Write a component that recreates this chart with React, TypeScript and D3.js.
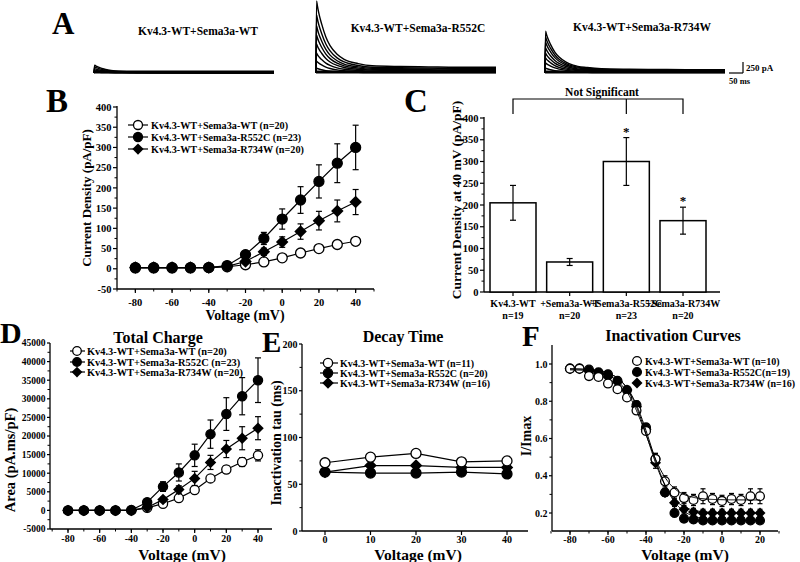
import React from 'react';
import * as d3 from 'd3';

const FONT = '"Liberation Serif", "Times New Roman", serif';

// ---------- Panel A (example traces) ----------
const traceTimes = [0, 2, 5, 10, 20, 35, 50, 75, 100, 150, 200, 300, 400, 500, 640];
const traceShape = [0, 1, 0.93, 0.83, 0.68, 0.5, 0.38, 0.26, 0.19, 0.13, 0.1, 0.09, 0.085, 0.08, 0.08];
const aTitles = ['Kv4.3-WT+Sema3a-WT', 'Kv4.3-WT+Sema3a-R552C', 'Kv4.3-WT+Sema3a-R734W'];
const aWTPeaks = [180, 140, 100, 70, 40, 20];
const aR552CPeaks = [1640, 1320, 1070, 860, 660, 450, 270, 110];
const aR734WPeaks = [950, 820, 700, 570, 450, 340, 230, 110];

// ---------- Panel B (current density) ----------
const voltsB = [-80, -70, -60, -50, -40, -30, -20, -10, 0, 10, 20, 30, 40];
const bWT = [2, 2, 2, 2, 3, 5, 10, 17, 27, 39, 50, 60, 68];
const bWTErr = [1, 1, 1, 1, 1, 2, 3, 4, 5, 6, 6, 7, 8];
const bR552C = [3, 3, 3, 3, 3, 8, 35, 75, 123, 170, 216, 261, 300];
const bR552CErr = [1, 1, 1, 1, 1, 3, 8, 15, 25, 33, 41, 48, 55];
const bR734W = [3, 3, 3, 3, 3, 6, 18, 42, 66, 92, 119, 143, 165];
const bR734WErr = [1, 1, 1, 1, 1, 2, 5, 9, 13, 19, 23, 27, 31];
const bLegend = ['Kv4.3-WT+Sema3a-WT (n=20)', 'Kv4.3-WT+Sema3a-R552C (n=23)', 'Kv4.3-WT+Sema3a-R734W (n=20)'];

// ---------- Panel C (bars at 40 mV) ----------
const cCats = ['Kv4.3-WT', '+Sema3a-WT', '+Sema3a-R552C', '+Sema3a-R734W'];
const cN = ['n=19', 'n=20', 'n=23', 'n=20'];
const cVals = [205, 69, 300, 164];
const cErr = [40, 8, 55, 31];
const cStars = ['', '', '*', '*'];

// ---------- Panel D (total charge) ----------
const voltsD = [-80, -70, -60, -50, -40, -30, -20, -10, 0, 10, 20, 30, 40];
const dWT = [0, 0, 0, 0, 0, 700, 1800, 3300, 5500, 8600, 11000, 13000, 14800];
const dWTErr = [0, 0, 0, 0, 0, 200, 400, 600, 500, 600, 1000, 1200, 1500];
const dR552C = [0, 0, 0, 0, 100, 2200, 6400, 10200, 14800, 20500, 25900, 30700, 35000];
const dR552CErr = [0, 0, 0, 0, 100, 400, 1300, 2300, 3000, 3800, 4400, 5000, 6000];
const dR734W = [0, 0, 0, 0, 0, 800, 2900, 5600, 8600, 12900, 16500, 19400, 22100];
const dR734WErr = [0, 0, 0, 0, 0, 200, 600, 1000, 1900, 1900, 2300, 3100, 3100];
const dLegend = ['Kv4.3-WT+Sema3a-WT (n=20)', 'Kv4.3-WT+Sema3a-R552C (n=23)', 'Kv4.3-WT+Sema3a-R734W (n=20)'];

// ---------- Panel E (decay time) ----------
const voltsE = [0, 10, 20, 30, 40];
const eWT = [73, 79, 83, 74, 75];
const eWTErr = [2, 2, 2, 2, 2];
const eR552C = [63, 62, 62, 63, 61];
const eR552CErr = [2, 2, 2, 2, 2];
const eR734W = [63, 70, 70, 68, 68];
const eR734WErr = [2, 2, 2, 2, 2];
const eLegend = ['Kv4.3-WT+Sema3a-WT (n=11)', 'Kv4.3-WT+Sema3a-R552C (n=20)', 'Kv4.3-WT+Sema3a-R734W (n=16)'];

// ---------- Panel F (inactivation) ----------
const voltsF = [-80, -75, -70, -65, -60, -55, -50, -45, -40, -35, -30, -25, -20, -15, -10, -5, 0, 5, 10, 15, 20];
const fWT = [0.975, 0.975, 0.935, 0.93, 0.895, 0.865, 0.82, 0.75, 0.64, 0.49, 0.37, 0.31, 0.28, 0.27, 0.29, 0.275, 0.265, 0.275, 0.27, 0.29, 0.29];
const fWTErr = [0.01, 0.01, 0.01, 0.01, 0.01, 0.01, 0.015, 0.02, 0.02, 0.03, 0.03, 0.03, 0.03, 0.03, 0.04, 0.03, 0.03, 0.03, 0.03, 0.04, 0.04];
const fR552C = [0.975, 0.975, 0.97, 0.955, 0.945, 0.91, 0.86, 0.78, 0.66, 0.49, 0.31, 0.2, 0.17, 0.165, 0.16, 0.16, 0.16, 0.16, 0.16, 0.16, 0.16];
const fR552CErr = [0.01, 0.01, 0.01, 0.01, 0.01, 0.01, 0.015, 0.02, 0.02, 0.03, 0.02, 0.02, 0.015, 0.015, 0.015, 0.015, 0.015, 0.015, 0.015, 0.015, 0.015];
const fR734W = [0.975, 0.975, 0.96, 0.95, 0.93, 0.905, 0.86, 0.77, 0.65, 0.47, 0.31, 0.255, 0.22, 0.205, 0.2, 0.2, 0.2, 0.2, 0.2, 0.2, 0.2];
const fR734WErr = [0.01, 0.01, 0.01, 0.01, 0.01, 0.01, 0.015, 0.02, 0.02, 0.03, 0.02, 0.02, 0.02, 0.02, 0.02, 0.02, 0.02, 0.02, 0.02, 0.02, 0.02];
// Boltzmann fit parameters [top, bottom, V1/2, k]
const fFitWT = [0.97, 0.27, -40, 6.4];
const fFitR552C = [0.975, 0.16, -37.6, 6.4];
const fFitR734W = [0.975, 0.2, -38.8, 6.1];
const fLegend = ['Kv4.3-WT+Sema3a-WT (n=10)', 'Kv4.3-WT+Sema3a-R552C(n=19)', 'Kv4.3-WT+Sema3a-R734W (n=16)'];

type MarkerType = 'open' | 'filled' | 'diamond';

function Marker({ x, y, type, r }: { x: number; y: number; type: MarkerType; r: number }) {
  if (type === 'diamond') {
    const s = r * 1.25;
    return <path d={`M${x},${y - s}L${x + s},${y}L${x},${y + s}L${x - s},${y}Z`} fill="#000" />;
  }
  return <circle cx={x} cy={y} r={r} fill={type === 'open' ? '#fff' : '#000'} stroke="#000" strokeWidth={1.3} />;
}

function LeftAxis({ x, y, top, bottom, major, minor, fmt, fs, tick = 4 }: any) {
  return (
    <g>
      <line x1={x} x2={x} y1={top} y2={bottom} stroke="#000" strokeWidth={1.3} />
      {minor.map((v: number) => (
        <line key={'m' + v} x1={x - 2.5} x2={x} y1={y(v)} y2={y(v)} stroke="#000" strokeWidth={1} />
      ))}
      {major.map((v: number) => (
        <g key={'M' + v}>
          <line x1={x - tick} x2={x} y1={y(v)} y2={y(v)} stroke="#000" strokeWidth={1.2} />
          <text x={x - tick - 1.5} y={y(v)} dy="0.35em" textAnchor="end" fontSize={fs} fontWeight="bold">
            {fmt(v)}
          </text>
        </g>
      ))}
    </g>
  );
}

function BottomAxis({ y, x, left, right, major, minor, fmt, fs, tick = 4, labelDy = 14 }: any) {
  return (
    <g>
      <line x1={left} x2={right} y1={y} y2={y} stroke="#000" strokeWidth={1.3} />
      {minor.map((v: number) => (
        <line key={'m' + v} x1={x(v)} x2={x(v)} y1={y} y2={y + 2.5} stroke="#000" strokeWidth={1} />
      ))}
      {major.map((v: number) => (
        <g key={'M' + v}>
          <line x1={x(v)} x2={x(v)} y1={y} y2={y + tick} stroke="#000" strokeWidth={1.2} />
          <text x={x(v)} y={y + labelDy} textAnchor="middle" fontSize={fs} fontWeight="bold">
            {fmt(v)}
          </text>
        </g>
      ))}
    </g>
  );
}

function SeriesPlot({ xs, vals, errs, x, y, type, r, line = true, cap = 3 }: any) {
  const gen = d3.line<number>().x((_, i) => x(xs[i])).y((v) => y(v));
  return (
    <g>
      {line && <path d={gen(vals) || ''} fill="none" stroke="#000" strokeWidth={1.2} />}
      {vals.map((v: number, i: number) =>
        errs[i] > 0 ? (
          <g key={'e' + i} stroke="#000" strokeWidth={1.2}>
            <line x1={x(xs[i])} x2={x(xs[i])} y1={y(v - errs[i])} y2={y(v + errs[i])} />
            <line x1={x(xs[i]) - cap} x2={x(xs[i]) + cap} y1={y(v + errs[i])} y2={y(v + errs[i])} />
            <line x1={x(xs[i]) - cap} x2={x(xs[i]) + cap} y1={y(v - errs[i])} y2={y(v - errs[i])} />
          </g>
        ) : null
      )}
      {vals.map((v: number, i: number) => (
        <Marker key={'p' + i} x={x(xs[i])} y={y(v)} type={type} r={r} />
      ))}
    </g>
  );
}

function Legend({ items, types, x0, x1, mx, tx, ys, fs, r, showLine = true }: any) {
  return (
    <g>
      {items.map((t: string, i: number) => (
        <g key={i}>
          {showLine && <line x1={x0} x2={x1} y1={ys[i]} y2={ys[i]} stroke="#000" strokeWidth={1.2} />}
          <Marker x={mx} y={ys[i]} type={types[i]} r={r} />
          <text x={tx} y={ys[i]} dy="0.35em" fontSize={fs} fontWeight="bold">
            {t}
          </text>
        </g>
      ))}
    </g>
  );
}

function range(a: number, b: number, s: number) {
  return d3.range(a, b + s / 2, s);
}

function Traces({ x0, peaks }: { x0: number; peaks: number[] }) {
  const xt = d3.scaleLinear().domain([0, 640]).range([x0, x0 + 180]);
  const yt = d3.scaleLinear().domain([0, 1700]).range([73, 73 - 74.8]);
  const gen = d3
    .line<number>()
    .x((_, i) => xt(traceTimes[i]))
    .y((v) => yt(v))
    .curve(d3.curveMonotoneX);
  return (
    <g>
      <line x1={xt(0)} x2={xt(640)} y1={72} y2={72} stroke="#000" strokeWidth={3} />
      {peaks.map((p, k) => (
        <path key={k} d={gen(traceShape.map((s) => s * p)) || ''} fill="none" stroke="#000" strokeWidth={1.4} />
      ))}
    </g>
  );
}

export default function App() {
  const xB = d3.scaleLinear().domain([-90, 50]).range([117, 374]);
  const yB = d3.scaleLinear().domain([-50, 400]).range([289, 107]);

  const yC = d3.scaleLinear().domain([0, 400]).range([292, 118]);
  const xC = d3.scalePoint<string>().domain(cCats).range([513, 683]);
  const barW = 46;

  const xD = d3.scaleLinear().domain([-80, 40]).range([68, 258]);
  const yD = d3.scaleLinear().domain([-5000, 45000]).range([529, 343]);

  const xE = d3.scaleLinear().domain([0, 40]).range([325, 507]);
  const yE = d3.scaleLinear().domain([0, 200]).range([531, 344]);

  const xF = d3.scaleLinear().domain([-80, 20]).range([570, 760]);
  const yF = d3.scaleLinear().domain([0.2, 1.0]).range([513, 364]);

  const fitV = range(-80, 20, 0.5);
  const fitLine = (p: number[]) =>
    d3
      .line<number>()
      .x((v) => xF(v))
      .y((v) => yF(p[1] + (p[0] - p[1]) / (1 + Math.exp((v - p[2]) / p[3]))))(fitV) || '';

  const types: MarkerType[] = ['open', 'filled', 'diamond'];

  return (
    <svg width={800} height={562} style={{ position: 'absolute', left: 0, top: 0, fontFamily: FONT }} fill="#000">
      <rect width={800} height={562} fill="#fff" />

      {/* ---------- A ---------- */}
      <text x={52} y={34} fontSize={31} fontWeight="bold">A</text>
      <text x={198} y={35} textAnchor="middle" fontSize={11.5} fontWeight="bold">{aTitles[0]}</text>
      <text x={418} y={32} textAnchor="middle" fontSize={11.5} fontWeight="bold">{aTitles[1]}</text>
      <text x={642} y={31} textAnchor="middle" fontSize={11.5} fontWeight="bold">{aTitles[2]}</text>
      <Traces x0={94} peaks={aWTPeaks} />
      <Traces x0={316} peaks={aR552CPeaks} />
      <Traces x0={545} peaks={aR734WPeaks} />
      <line x1={729} x2={743} y1={73} y2={73} stroke="#000" strokeWidth={1.2} />
      <line x1={743} x2={743} y1={62} y2={73} stroke="#000" strokeWidth={1.2} />
      <text x={746} y={71} fontSize={9} fontWeight="bold">250 pA</text>
      <text x={729} y={84} fontSize={8.5} fontWeight="bold">50 ms</text>

      {/* ---------- B ---------- */}
      <text x={46} y={112} fontSize={33} fontWeight="bold">B</text>
      <LeftAxis x={117} y={yB} top={106} bottom={289} major={range(-50, 400, 50)} minor={range(-25, 375, 50)} fmt={(v: number) => v} fs={10.5} />
      <BottomAxis y={289} x={xB} left={117} right={374} major={range(-80, 40, 20)} minor={range(-90, 50, 10)} fmt={(v: number) => v} fs={10.5} labelDy={17} />
      <text transform="translate(91,198) rotate(-90)" textAnchor="middle" fontSize={13} fontWeight="bold">Current Density (pA/pF)</text>
      <text x={245} y={320} textAnchor="middle" fontSize={14} fontWeight="bold">Voltage (mV)</text>
      <SeriesPlot xs={voltsB} vals={bWT} errs={bWTErr} x={xB} y={yB} type="open" r={5} />
      <SeriesPlot xs={voltsB} vals={bR734W} errs={bR734WErr} x={xB} y={yB} type="diamond" r={5} />
      <SeriesPlot xs={voltsB} vals={bR552C} errs={bR552CErr} x={xB} y={yB} type="filled" r={5} />
      <Legend items={bLegend} types={types} x0={128} x1={148} mx={138} tx={151} ys={[125, 137, 149]} fs={10.2} r={4.5} />

      {/* ---------- C ---------- */}
      <text x={404} y={112} fontSize={33} fontWeight="bold">C</text>
      <LeftAxis x={484} y={yC} top={117} bottom={292} major={range(0, 400, 50)} minor={range(25, 375, 50)} fmt={(v: number) => v} fs={10.5} />
      <line x1={484} x2={720} y1={292} y2={292} stroke="#000" strokeWidth={1.3} />
      {cCats.map((c, i) => {
        const cx = xC(c)!;
        const top = yC(cVals[i] + cErr[i]);
        return (
          <g key={c}>
            <rect x={cx - barW / 2} y={yC(cVals[i])} width={barW} height={yC(0) - yC(cVals[i])} fill="#fff" stroke="#000" strokeWidth={1.5} />
            <g stroke="#000" strokeWidth={1.2}>
              <line x1={cx} x2={cx} y1={yC(cVals[i] - cErr[i])} y2={top} />
              <line x1={cx - 3} x2={cx + 3} y1={top} y2={top} />
              <line x1={cx - 3} x2={cx + 3} y1={yC(cVals[i] - cErr[i])} y2={yC(cVals[i] - cErr[i])} />
            </g>
            <line x1={cx} x2={cx} y1={292} y2={296} stroke="#000" strokeWidth={1.2} />
            {cStars[i] && (
              <text x={cx} y={top - 2} textAnchor="middle" fontSize={13} fontWeight="bold">{cStars[i]}</text>
            )}
            <text x={cx} y={307} textAnchor="middle" fontSize={10} fontWeight="bold">{c}</text>
            <text x={cx} y={319} textAnchor="middle" fontSize={10} fontWeight="bold">{cN[i]}</text>
          </g>
        );
      })}
      <g stroke="#000" strokeWidth={1.2} fill="none">
        <path d={`M${xC(cCats[0])},114V99H${xC(cCats[3])}V114`} />
        <line x1={xC(cCats[2])} x2={xC(cCats[2])} y1={99} y2={114} />
      </g>
      <text x={602} y={96} textAnchor="middle" fontSize={11.5} fontWeight="bold">Not Significant</text>
      <text transform="translate(461,200) rotate(-90)" textAnchor="middle" fontSize={13.5} fontWeight="bold">Current Density at 40 mV (pA/pF)</text>

      {/* ---------- D ---------- */}
      <text x={0} y={343} fontSize={30} fontWeight="bold">D</text>
      <text x={158} y={343} textAnchor="middle" fontSize={16} fontWeight="bold">Total Charge</text>
      <LeftAxis x={50} y={yD} top={343} bottom={529} major={range(-5000, 45000, 5000)} minor={range(-2500, 42500, 5000)} fmt={(v: number) => v} fs={9.5} tick={3} />
      <BottomAxis y={529} x={xD} left={50} right={272} major={range(-80, 40, 20)} minor={range(-90, 40, 10)} fmt={(v: number) => v} fs={10} labelDy={13} />
      <text transform="translate(15,460) rotate(-90)" textAnchor="middle" fontSize={14.5} fontWeight="bold">Area (pA.ms/pF)</text>
      <text x={182} y={560} textAnchor="middle" fontSize={15.5} fontWeight="bold">Voltage (mV)</text>
      <SeriesPlot xs={voltsD} vals={dWT} errs={dWTErr} x={xD} y={yD} type="open" r={4.6} />
      <SeriesPlot xs={voltsD} vals={dR734W} errs={dR734WErr} x={xD} y={yD} type="diamond" r={4.6} />
      <SeriesPlot xs={voltsD} vals={dR552C} errs={dR552CErr} x={xD} y={yD} type="filled" r={4.6} />
      <Legend items={dLegend} types={types} x0={70} x1={85} mx={77} tx={87} ys={[351, 362, 372]} fs={10.4} r={4.3} />

      {/* ---------- E ---------- */}
      <text x={262} y={352} fontSize={29} fontWeight="bold">E</text>
      <text x={403} y={342} textAnchor="middle" fontSize={16} fontWeight="bold">Decay Time</text>
      <LeftAxis x={302} y={yE} top={344} bottom={531} major={range(0, 200, 50)} minor={range(25, 175, 50)} fmt={(v: number) => v} fs={10} tick={3} />
      <BottomAxis y={531} x={xE} left={302} right={528} major={range(0, 40, 10)} minor={[]} fmt={(v: number) => v} fs={10} labelDy={12} />
      <text transform="translate(281,443) rotate(-90)" textAnchor="middle" fontSize={14} fontWeight="bold">Inactivation tau (ms)</text>
      <text x={418} y={560} textAnchor="middle" fontSize={15.5} fontWeight="bold">Voltage (mV)</text>
      <SeriesPlot xs={voltsE} vals={eR734W} errs={eR734WErr} x={xE} y={yE} type="diamond" r={5} />
      <SeriesPlot xs={voltsE} vals={eR552C} errs={eR552CErr} x={xE} y={yE} type="filled" r={5} />
      <SeriesPlot xs={voltsE} vals={eWT} errs={eWTErr} x={xE} y={yE} type="open" r={5} />
      <Legend items={eLegend} types={types} x0={320} x1={338} mx={328} tx={340} ys={[363, 373, 383]} fs={10} r={4.6} />

      {/* ---------- F ---------- */}
      <text x={522} y={346} fontSize={29} fontWeight="bold">F</text>
      <text x={673} y={341} textAnchor="middle" fontSize={16} fontWeight="bold">Inactivation Curves</text>
      <LeftAxis x={552} y={yF} top={345} bottom={531} major={[0.2, 0.4, 0.6, 0.8, 1.0]} minor={[0.3, 0.5, 0.7, 0.9]} fmt={(v: number) => v.toFixed(1)} fs={10} tick={3} />
      <BottomAxis y={531} x={xF} left={552} right={778} major={range(-80, 20, 20)} minor={range(-90, 30, 10)} fmt={(v: number) => v} fs={10} labelDy={12} />
      <text transform="translate(531,436) rotate(-90)" textAnchor="middle" fontSize={14} fontWeight="bold">I/Imax</text>
      <text x={685} y={560} textAnchor="middle" fontSize={15.5} fontWeight="bold">Voltage (mV)</text>
      <SeriesPlot xs={voltsF} vals={fR734W} errs={fR734WErr} x={xF} y={yF} type="diamond" r={4.4} line={false} cap={2.5} />
      <SeriesPlot xs={voltsF} vals={fR552C} errs={fR552CErr} x={xF} y={yF} type="filled" r={4.4} line={false} cap={2.5} />
      <SeriesPlot xs={voltsF} vals={fWT} errs={fWTErr} x={xF} y={yF} type="open" r={4.4} line={false} cap={2.5} />
      <g fill="none" stroke="#000" strokeWidth={1}>
        <path d={fitLine(fFitWT)} />
        <path d={fitLine(fFitR552C)} />
        <path d={fitLine(fFitR734W)} />
      </g>
      <Legend items={fLegend} types={types} x0={0} x1={0} mx={637} tx={645} ys={[361, 372, 383]} fs={10} r={4.4} showLine={false} />
    </svg>
  );
}
